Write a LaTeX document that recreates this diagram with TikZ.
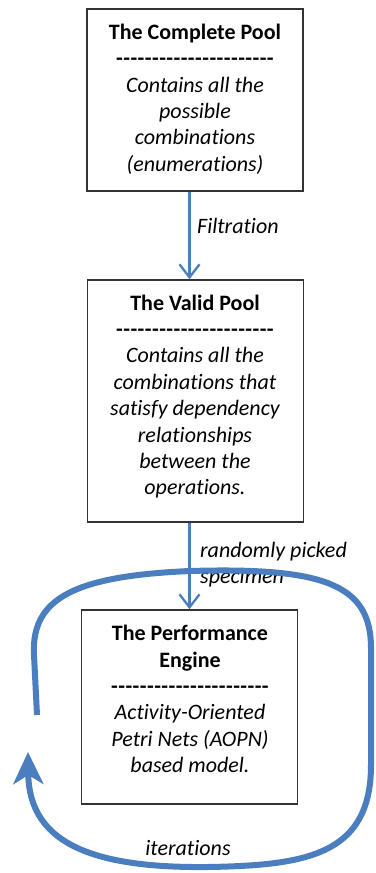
\documentclass[tikz,border=0pt]{standalone}
\usepackage{fontspec}
\setmainfont{Carlito}[Ligatures=NoCommon]
\usetikzlibrary{arrows.meta}
\definecolor{flowblue}{RGB}{74,126,190}
\newcommand\hy{\hbox{-}\kern0.45pt}
\newcommand\hyline{\textbf{\hy\hy\hy\hy\hy\hy\hy\hy\hy\hy\hy\hy\hy\hy\hy\hy\hy\hy\hy\hy\hy\hbox{-}}}
\begin{document}
\begin{tikzpicture}[x=1pt,y=-1pt,
  boxframe/.style={draw=black!80,line width=1.6pt,minimum width=216pt,inner sep=0pt},
  boxtext/.style={align=center,font=\fontsize{22}{26.4}\selectfont,inner sep=0pt},
  lbl/.style={font=\fontsize{22}{26.4}\selectfont\itshape,inner sep=0pt},
  flow/.style={draw=flowblue,line width=2.3pt,-{Straight Barb[length=13pt,width=20pt,line width=2.3pt]}},
  loop/.style={draw=flowblue,line width=6pt,-{Stealth[length=32pt,width=30pt,inset=9pt]}}]
\useasboundingbox (0,0) rectangle (375,873);
% boxes
\node[boxframe,minimum height=182pt] (b1) at (195,100) {};
\node[boxframe,minimum height=242pt] (b2) at (195.5,401) {};
\node[boxframe,minimum height=194pt] (b3) at (189.5,707) {};
% texts
\node[boxtext] (t1) at (195,99) {\textbf{The Complete Pool}\\\hyline\\\itshape Contains all the\\\itshape possible\\\itshape combinations\\\itshape (enumerations)};
\node[boxtext] (t2) at (195,396.5) {\textbf{The Valid Pool}\\\hyline\\\itshape Contains all the\\\itshape combinations that\\\itshape satisfy dependency\\\itshape relationships\\\itshape between the\\\itshape operations.};
\node[boxtext] (t3) at (190,699) {\textbf{The Performance}\\\textbf{Engine}\\\hyline\\\itshape Activity-Oriented\\\itshape Petri Nets (AOPN)\\\itshape based model.};
% straight arrows
\draw[flow] (b1.south -| b3.north) -- (b2.north -| b3.north);
\draw[flow] (b2.south -| b3.north) -- (b3.north);
\node[lbl,anchor=west] (l1) at (197,226) {Filtration};
\node[lbl,anchor=west,align=left] (l2) at (200,564.5) {randomly picked\\specimen};
\node[lbl] (l3) at (188,848) {iterations};
% loop
\coordinate (ls) at (37,715);
\coordinate (le) at (28,752);
\draw[loop] (ls) -- (34,655) .. controls (31,598) and (75,576) .. (190,571)
  .. controls (325,567) and (371,585) .. (371,648) -- (371,765)
  .. controls (371,845) and (320,862) .. (240,866)
  .. controls (95,873) and (29,845) .. (le);
\end{tikzpicture}
\end{document}
